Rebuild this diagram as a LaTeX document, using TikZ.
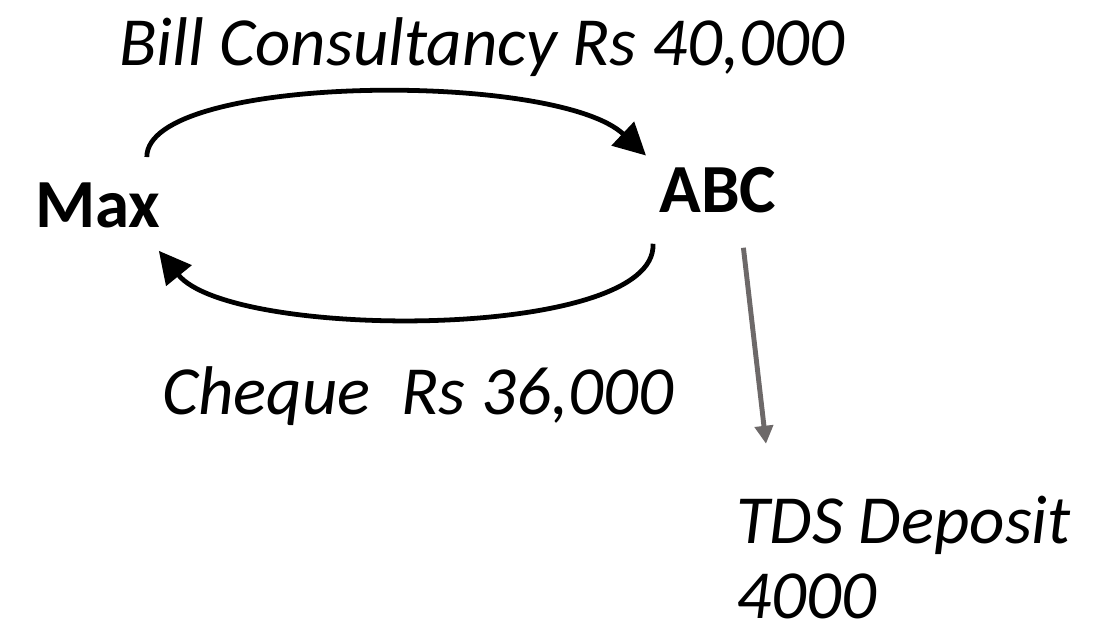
\documentclass[tikz,border=0pt]{standalone}
\usepackage{fontspec}
\setmainfont{Carlito}
\usepackage{xcolor}
\usetikzlibrary{arrows.meta,positioning,calc}
\definecolor{tdsgray}{RGB}{109,105,105}
\tikzset{
  partytext/.style={font=\fontsize{49}{58}\selectfont\bfseries, inner sep=0pt, anchor=base west},
  flowtext/.style={font=\fontsize{49}{53}\selectfont\itshape, inner sep=0pt, anchor=base west, align=left},
  flowarc/.style={-{Triangle[length=0.8cm,width=0.8cm]}, line width=3.4pt},
  tdsarrow/.style={-{Triangle[length=0.45cm,width=0.45cm]}, line width=3.5pt, draw=tdsgray, fill=tdsgray}
}
\begin{document}
\begin{tikzpicture}[x=0.025cm,y=-0.025cm]
\useasboundingbox (0,0) rectangle (1107,637);
\node[flowtext] (bill) at (119,66) {Bill Consultancy Rs 40,000};
\node[partytext] (max) at (35,227) {Max};
\node[partytext] (abc) at (659,212) {ABC};
\node[flowtext] (cheque) at (162,414) {Cheque\ \ Rs 36,000};
\node[flowtext] (tds) at (736,618) {TDS Deposit\\4000};

\draw[flowarc] ([shift={(-14,-25)}]max.north east) .. controls +(0,-83) and +(-90,-85) .. ([shift={(-13,-11)}]abc.north west);
\draw[flowarc] ([shift={(-6,31)}]abc.south west) .. controls +(5,97) and +(73,90) .. ([shift={(-2,23)}]max.south east);
\draw[tdsarrow] ([shift={(-33,35)}]abc.south east) -- ([shift={(30,-52)}]tds.north west);
\end{tikzpicture}
\end{document}
